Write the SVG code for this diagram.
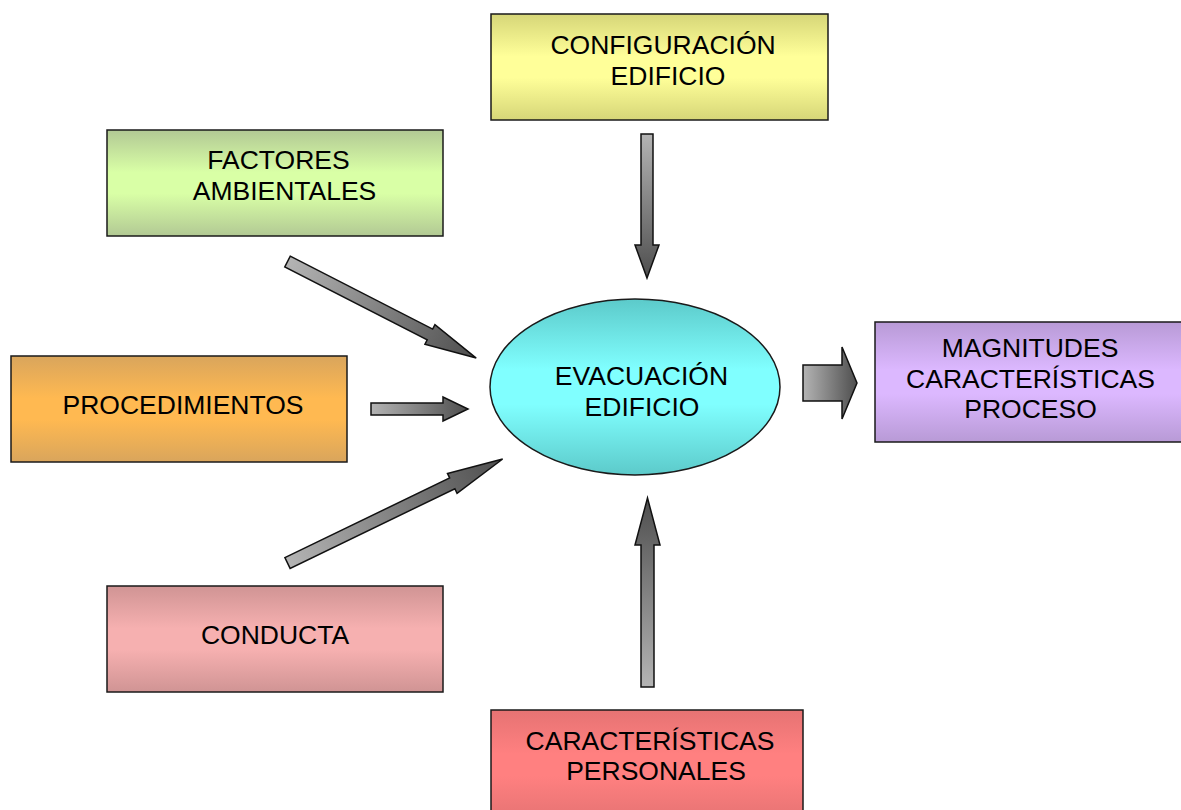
<svg xmlns="http://www.w3.org/2000/svg" width="1181" height="810" viewBox="0 0 1181 810">
<style>
.box{stroke:#1a1a1a;stroke-width:1.5}
.lbl{font-family:"Liberation Sans",Arial,sans-serif;font-size:26.5px;fill:#000;text-anchor:middle}
.arr{fill:url(#gArr);stroke:#111;stroke-width:1.5;stroke-linejoin:miter}
</style>
<defs>
<linearGradient id="gArr" x1="0" y1="0" x2="1" y2="0"><stop offset="0" stop-color="#b4b4b4"/><stop offset="1" stop-color="#4e4e4e"/></linearGradient>
<linearGradient id="gY" x1="0" y1="0" x2="0" y2="1"><stop offset="0" stop-color="#d6d678"/><stop offset="0.4" stop-color="#ffff99"/><stop offset="0.6" stop-color="#ffff99"/><stop offset="1" stop-color="#d6d678"/></linearGradient>
<linearGradient id="gG" x1="0" y1="0" x2="0" y2="1"><stop offset="0" stop-color="#b2c994"/><stop offset="0.4" stop-color="#d9ffa6"/><stop offset="0.6" stop-color="#d9ffa6"/><stop offset="1" stop-color="#b2c994"/></linearGradient>
<linearGradient id="gO" x1="0" y1="0" x2="0" y2="1"><stop offset="0" stop-color="#d9a55c"/><stop offset="0.4" stop-color="#ffb951"/><stop offset="0.6" stop-color="#ffb951"/><stop offset="1" stop-color="#d9a55c"/></linearGradient>
<linearGradient id="gP" x1="0" y1="0" x2="0" y2="1"><stop offset="0" stop-color="#d09494"/><stop offset="0.4" stop-color="#f6b0b0"/><stop offset="0.6" stop-color="#f6b0b0"/><stop offset="1" stop-color="#d09494"/></linearGradient>
<linearGradient id="gR" x1="0" y1="0" x2="0" y2="1"><stop offset="0" stop-color="#e67373"/><stop offset="0.4" stop-color="#ff8080"/><stop offset="0.6" stop-color="#ff8080"/><stop offset="1" stop-color="#e67373"/></linearGradient>
<linearGradient id="gV" x1="0" y1="0" x2="0" y2="1"><stop offset="0" stop-color="#b89ad6"/><stop offset="0.4" stop-color="#dcb8ff"/><stop offset="0.6" stop-color="#dcb8ff"/><stop offset="1" stop-color="#b89ad6"/></linearGradient>
<linearGradient id="gC" x1="0" y1="0" x2="0" y2="1"><stop offset="0" stop-color="#5ccaca"/><stop offset="0.4" stop-color="#80ffff"/><stop offset="0.6" stop-color="#80ffff"/><stop offset="1" stop-color="#5ccaca"/></linearGradient>
</defs>
<rect width="1181" height="810" fill="#fff"/>
<g id="connectors">
<path class="arr" transform="translate(647,134) rotate(90)" d="M0,-6 H111 V-12 L144,0 L111,12 V6 H0 Z"/>
<path class="arr" transform="translate(647.5,687) rotate(-90)" d="M0,-6.5 H142 V-12.5 L189,0 L142,12.5 V6.5 H0 Z"/>
<path class="arr" transform="translate(371,409)" d="M0,-6 H72 V-12 L97,0 L72,12 V6 H0 Z"/>
<path class="arr" transform="translate(287.5,261.5) rotate(27.1)" d="M0,-6 H160 V-11 L212,0 L160,11 V6 H0 Z"/>
<path class="arr" transform="translate(287.5,563) rotate(-25.8)" d="M0,-6 H183 V-11 L239,0 L183,11 V6 H0 Z"/>
<path class="arr" transform="translate(803,383)" d="M0,-18 H39 V-36 L54,0 L39,36 V18 H0 Z"/>
</g>
<g id="configuracion">
<rect class="box" x="491" y="14" width="337" height="106" fill="url(#gY)"/>
<text class="lbl" x="663" y="54">CONFIGURACIÓN</text>
<text class="lbl" x="668" y="85">EDIFICIO</text>
</g>
<g id="factores">
<rect class="box" x="107" y="130" width="336" height="106" fill="url(#gG)"/>
<text class="lbl" x="278.5" y="169">FACTORES</text>
<text class="lbl" x="284.5" y="200">AMBIENTALES</text>
</g>
<g id="procedimientos">
<rect class="box" x="11" y="356" width="336" height="106" fill="url(#gO)"/>
<text class="lbl" x="183" y="414">PROCEDIMIENTOS</text>
</g>
<g id="conducta">
<rect class="box" x="107" y="586" width="336" height="106" fill="url(#gP)"/>
<text class="lbl" x="275" y="644">CONDUCTA</text>
</g>
<g id="personales">
<rect class="box" x="491" y="710" width="312" height="110" fill="url(#gR)"/>
<text class="lbl" x="650" y="750">CARACTERÍSTICAS</text>
<text class="lbl" x="656" y="780">PERSONALES</text>
</g>
<g id="magnitudes">
<rect class="box" x="875" y="322" width="310" height="120" fill="url(#gV)"/>
<text class="lbl" x="1030" y="357">MAGNITUDES</text>
<text class="lbl" x="1030.5" y="388">CARACTERÍSTICAS</text>
<text class="lbl" x="1030.5" y="418">PROCESO</text>
</g>
<g id="evacuacion">
<ellipse class="box" cx="635" cy="387" rx="145" ry="88" fill="url(#gC)"/>
<text class="lbl" x="641.5" y="385">EVACUACIÓN</text>
<text class="lbl" x="642" y="416">EDIFICIO</text>
</g>
</svg>
